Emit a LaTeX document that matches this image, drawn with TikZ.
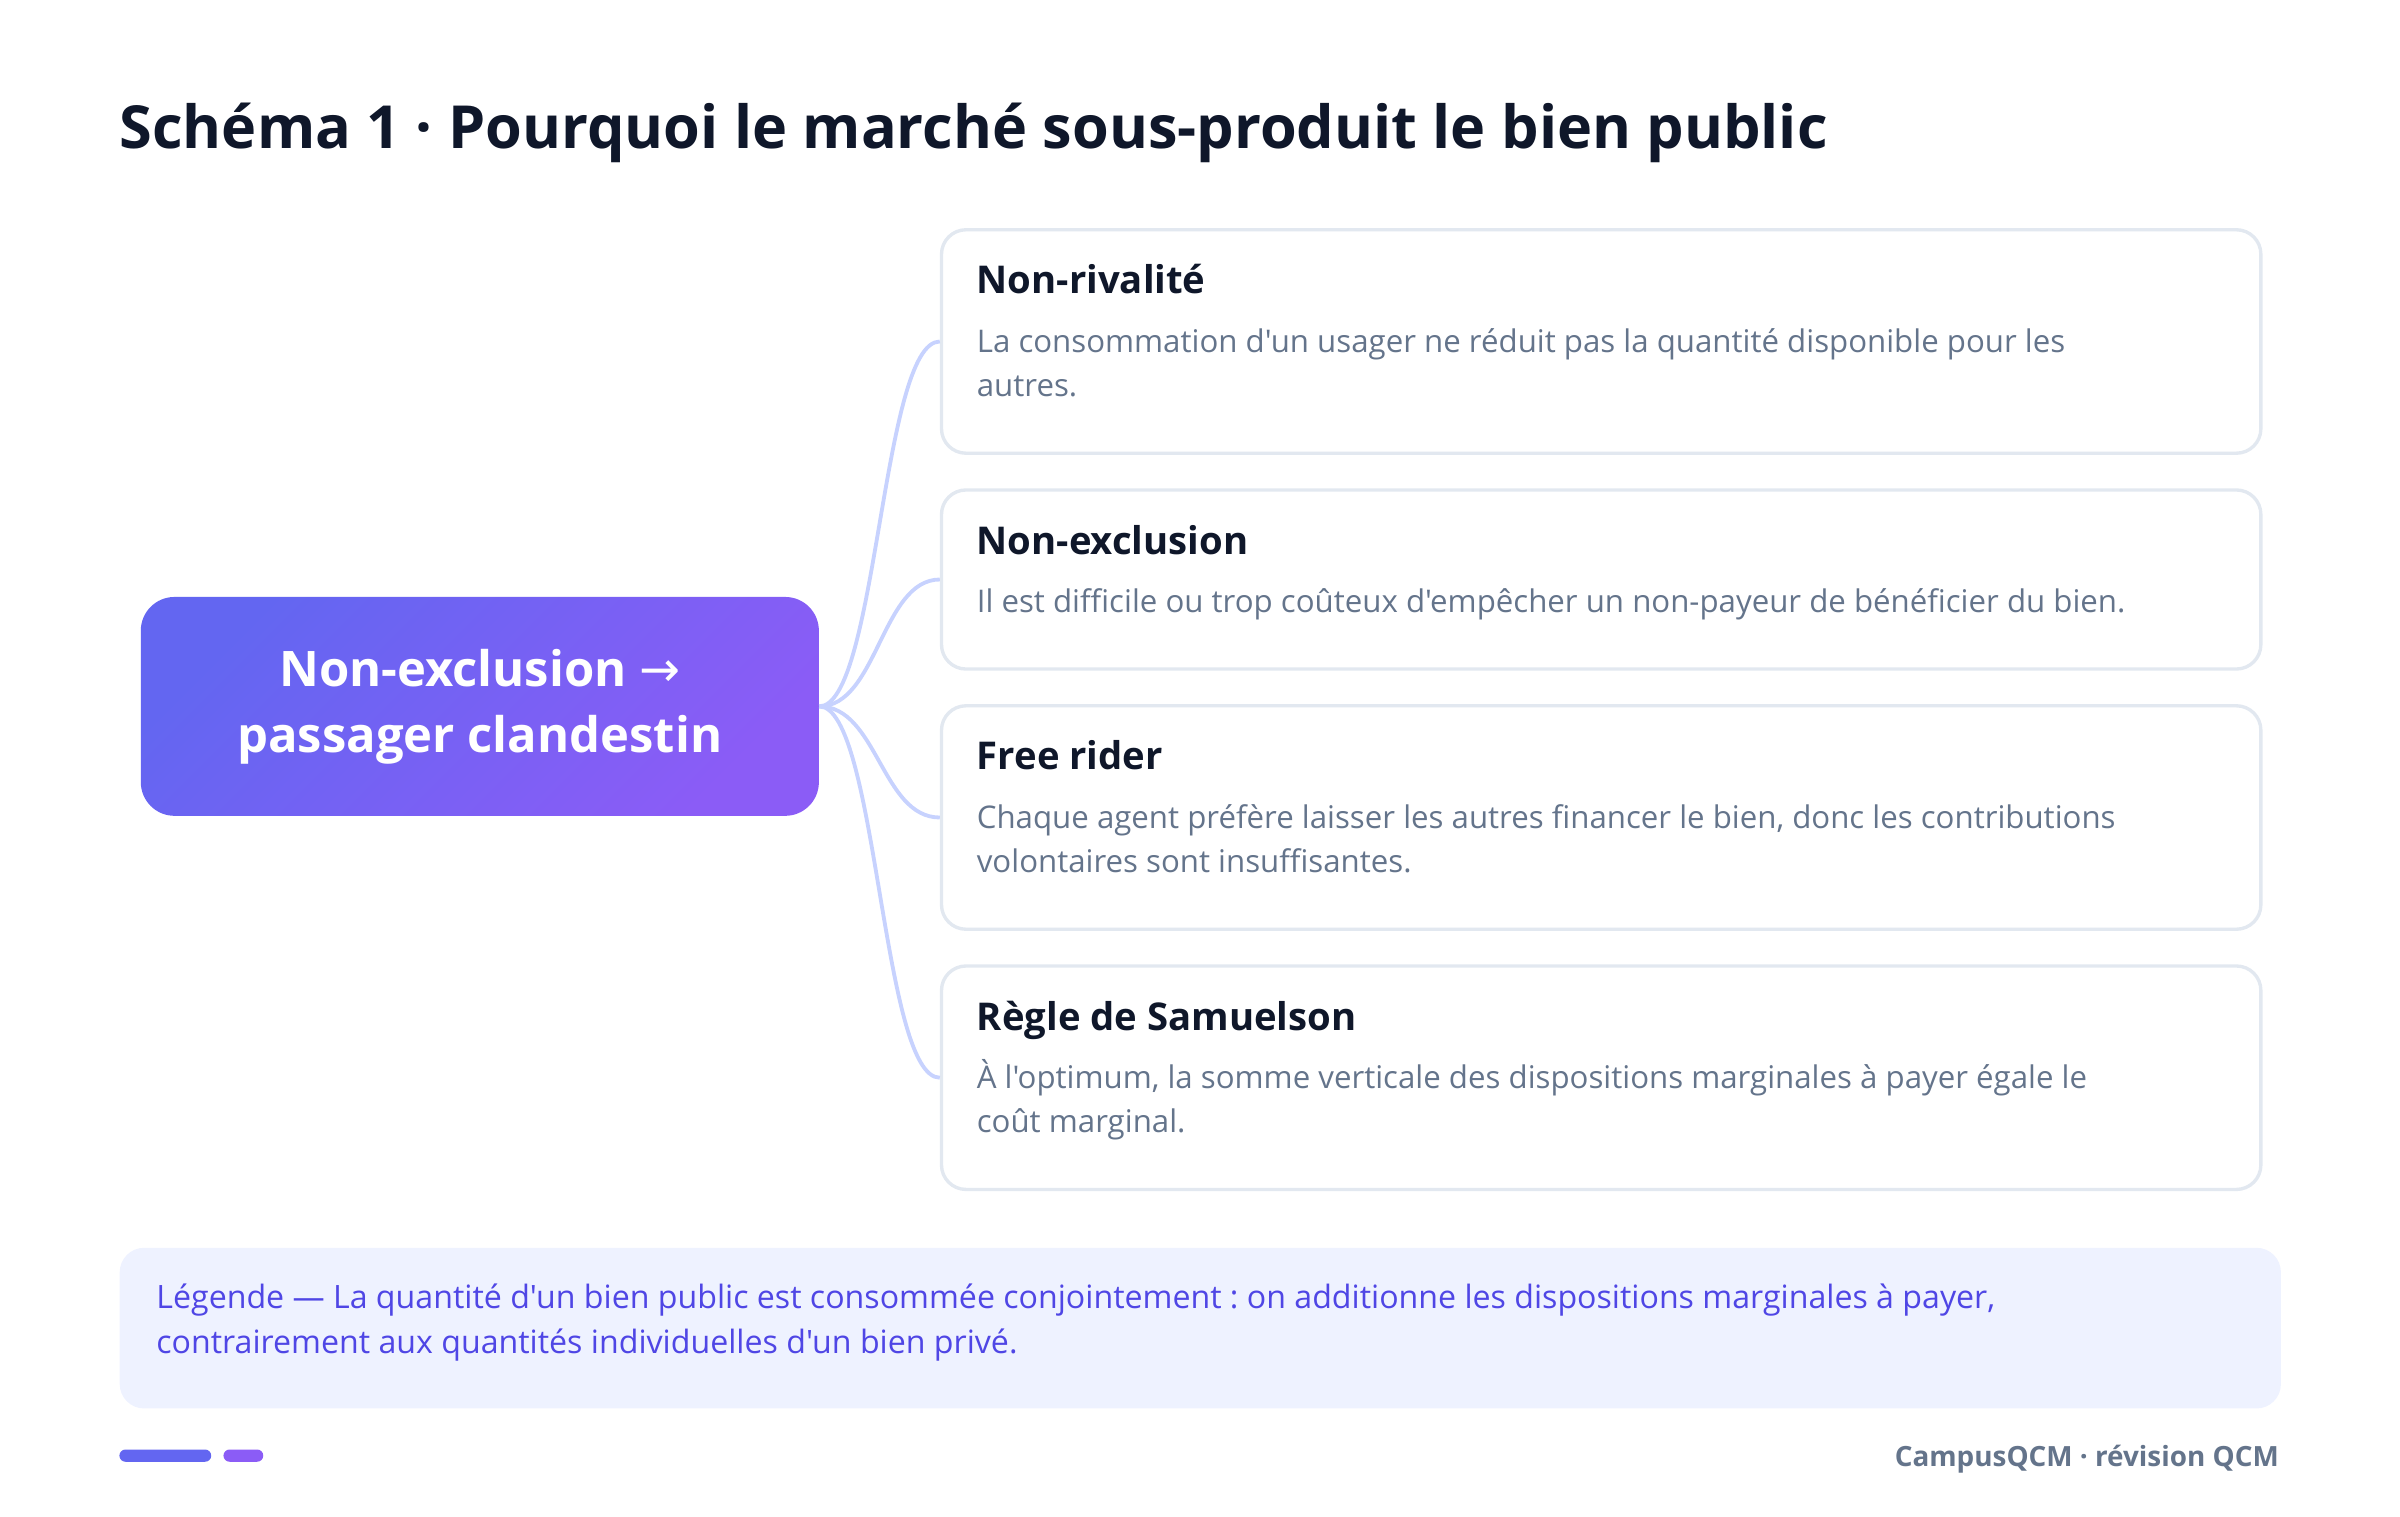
\documentclass[tikz,border=0pt]{standalone}
\usepackage{fontspec}
\setmainfont{Open Sans}[Ligatures=TeXOff]
\newfontfamily\arrowfont{DejaVu Sans}
\usepackage{xcolor}
\usepackage{tikz}
\frenchspacing
\definecolor{ink}{HTML}{0F172A}
\definecolor{slate}{HTML}{64748B}
\definecolor{cardline}{HTML}{E2E8F0}
\definecolor{linkblue}{HTML}{C7D2FE}
\definecolor{hubA}{HTML}{6366F1}
\definecolor{hubB}{HTML}{8B5CF6}
\definecolor{legendbg}{HTML}{EEF2FF}
\definecolor{legendink}{HTML}{4F46E5}
\tikzset{
  titletext/.style = {anchor=base west, inner sep=0pt, text=ink,
    font=\fontsize{38.8}{44}\selectfont\bfseries},
  hub/.style = {rounded corners=22pt, minimum width=443pt, minimum height=143pt,
    left color=hubA, right color=hubB, shading angle=45, text=white,
    align=center, font=\fontsize{32}{43}\selectfont\bfseries},% noeud central
  card/.style = {anchor=north west, draw=cardline, line width=2.2pt, fill=white,
    rounded corners=16pt, minimum width=862pt, inner sep=0pt},% carte
  cardhead/.style = {anchor=base west, inner sep=0pt, text=ink,
    font=\fontsize{25}{30}\selectfont\bfseries},
  cardbody/.style = {anchor=base west, inner sep=0pt, align=left, text=slate,
    font=\fontsize{20.4}{29}\selectfont},% base = derniere ligne
  link/.style = {draw=linkblue, line width=2.5pt},
  legend/.style = {anchor=north west, fill=legendbg, rounded corners=16pt,
    minimum width=1412pt, minimum height=105pt, inner sep=0pt},
  legendtext/.style = {anchor=base west, inner sep=0pt, align=left,
    text=legendink, font=\fontsize{21}{29}\selectfont},
  pill/.style = {rounded corners=4pt, minimum height=8pt, inner sep=0pt},
  footer/.style = {anchor=base east, inner sep=0pt, text=slate,
    font=\fontsize{18.2}{24}\selectfont\bfseries}
}

\begin{document}
\begin{tikzpicture}[x=1pt,y=-1pt]
\useasboundingbox (0,0) rectangle (1568,991);

\node[titletext] (title) at (78,97)
  {Schéma 1 · Pourquoi le marché sous-produit le bien public};

% noeud central
\node[hub] (hub) at (313.5,461.5) {Non-exclusion {\arrowfont\mdseries →}\\passager clandestin};

% cartes
\node[card, minimum height=146pt] (nonriv) at (614,149) {};
\node[cardhead] (nonrivhead) at ([shift={(24,43)}]nonriv.north west) {Non-rivalité};
\node[cardbody] (nonrivbody) at ([shift={(24,110)}]nonriv.north west)
  {La consommation d'un usager ne réduit pas la quantité disponible pour les\\autres.};

\node[card, minimum height=117pt] (nonexcl) at (614,319) {};
\node[cardhead] (nonexclhead) at ([shift={(24,43)}]nonexcl.north west) {Non-exclusion};
\node[cardbody] (nonexclbody) at ([shift={(24,81)}]nonexcl.north west)
  {Il est difficile ou trop coûteux d'empêcher un non-payeur de bénéficier du bien.};

\node[card, minimum height=146pt] (free) at (614,460) {};
\node[cardhead] (freehead) at ([shift={(24,43)}]free.north west) {Free rider};
\node[cardbody] (freebody) at ([shift={(24,110)}]free.north west)
  {Chaque agent préfère laisser les autres financer le bien, donc les contributions\\volontaires sont insuffisantes.};

\node[card, minimum height=146pt] (samuel) at (614,630) {};
\node[cardhead] (samuelhead) at ([shift={(24,43)}]samuel.north west) {Règle de Samuelson};
\node[cardbody] (samuelbody) at ([shift={(24,110)}]samuel.north west)
  {À l'optimum, la somme verticale des dispositions marginales à payer égale le\\coût marginal.};

% liens
\draw[link] (hub.east) .. controls +(38,0) and +(-38,0) .. (nonriv.west);
\draw[link] (hub.east) .. controls +(38,0) and +(-38,0) .. (nonexcl.west);
\draw[link] (hub.east) .. controls +(38,0) and +(-38,0) .. (free.west);
\draw[link] (hub.east) .. controls +(38,0) and +(-38,0) .. (samuel.west);

% legende
\node[legend] (legend) at (78,815) {};
\node[legendtext] (legendtxt) at (102,884)
  {Légende — La quantité d'un bien public est consommée conjointement : on additionne les dispositions marginales à payer,\\contrairement aux quantités individuelles d'un bien privé.};

% pied de page
\node[pill, fill=hubA, minimum width=60pt] (pillA) at (108,951) {};
\node[pill, fill=hubB, minimum width=26pt] (pillB) at (159,951) {};
\node[footer] (brand) at (1489,958) {CampusQCM · révision QCM};
\end{tikzpicture}
\end{document}
